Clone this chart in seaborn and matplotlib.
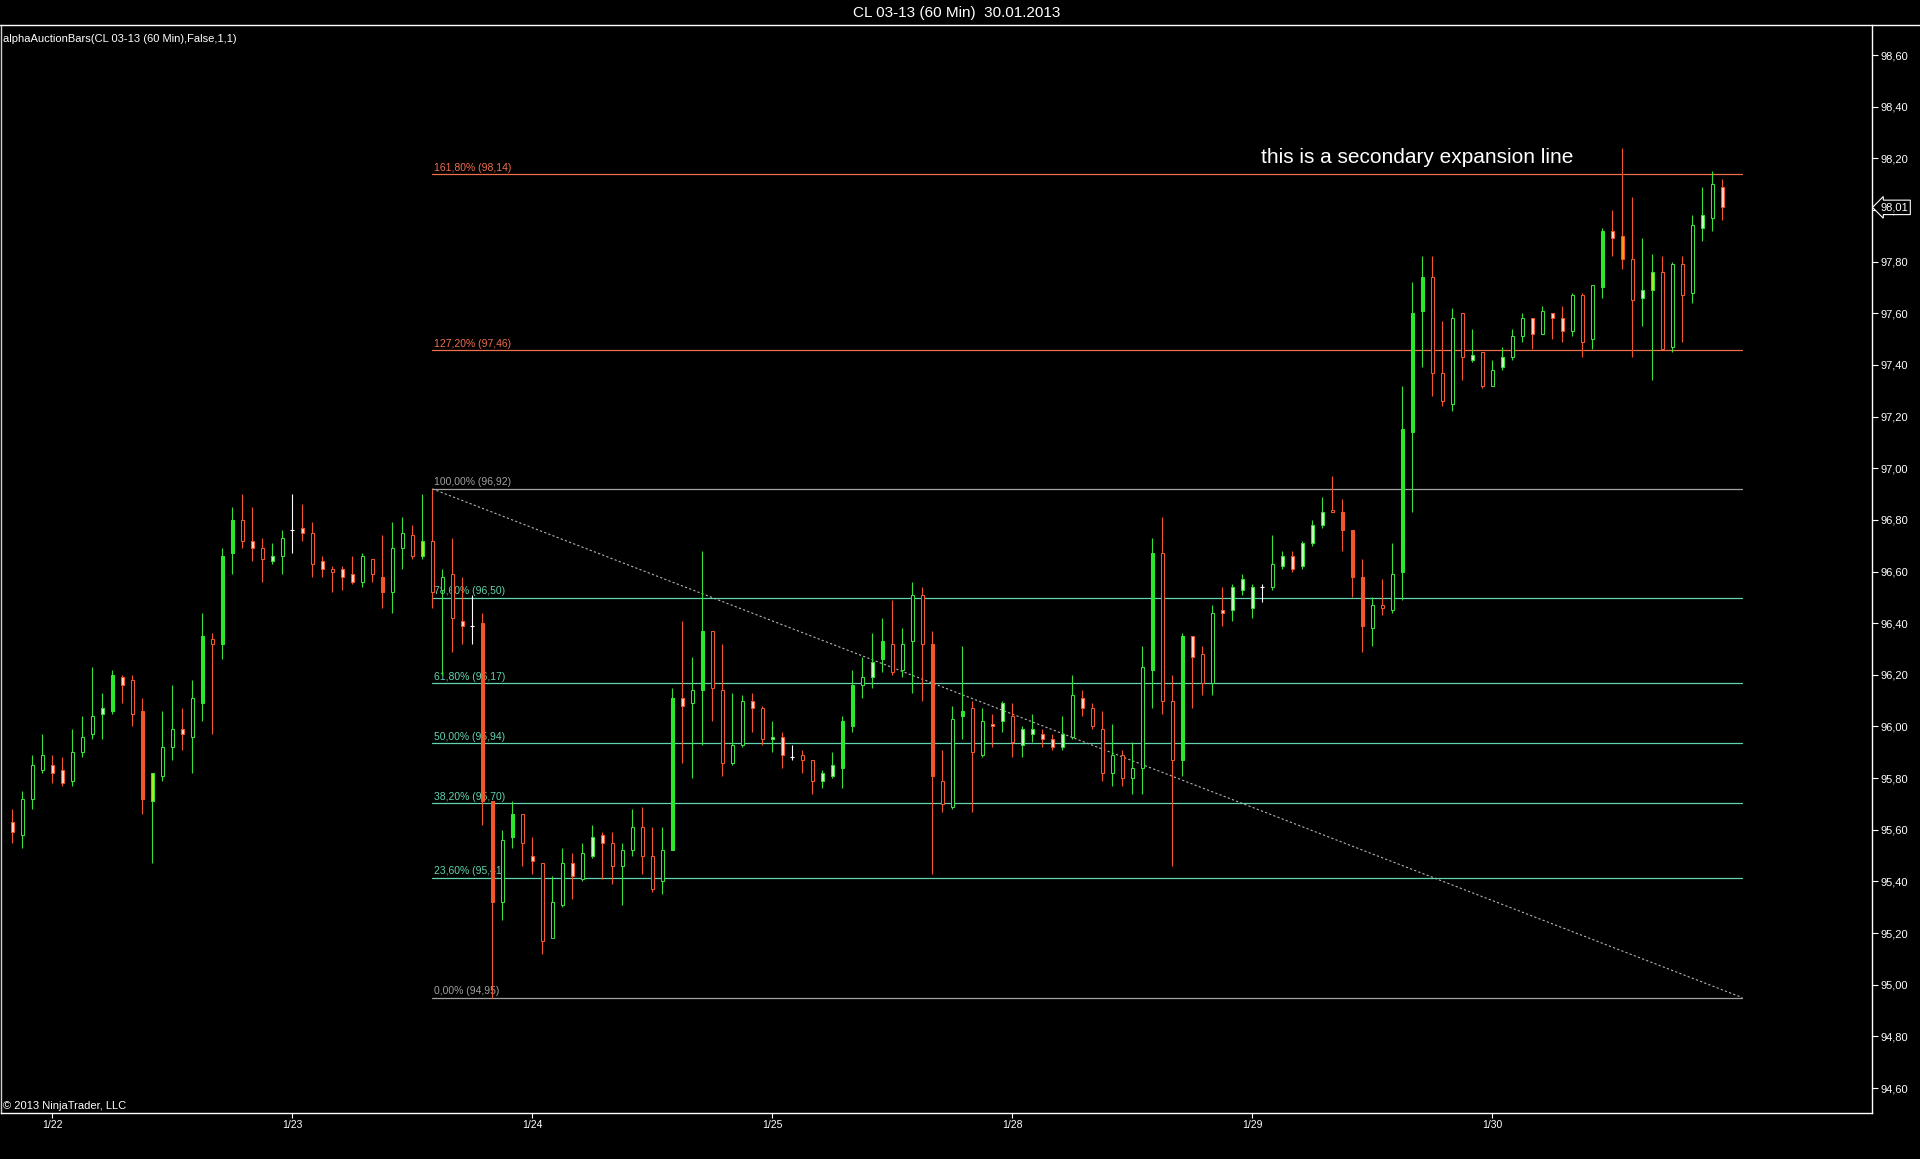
import numpy as np
import pandas as pd
import matplotlib
matplotlib.use("Agg")
import matplotlib.pyplot as plt
from matplotlib.lines import Line2D
import seaborn as sns

# ------------------------------------------------------------------ data
title_text = "CL 03-13 (60 Min)  30.01.2013"
indicator_text = "alphaAuctionBars(CL 03-13 (60 Min),False,1,1)"
copyright_text = "\u00a9 2013 NinjaTrader, LLC"
note_text = "this is a secondary expansion line"

day_labels = ["1/22", "1/23", "1/24", "1/25", "1/28", "1/29", "1/30"]
day_tick_bars = [4, 28, 52, 76, 100, 124, 148]

opens = [95.63, 95.58, 95.72, 95.83, 95.85, 95.83, 95.79, 95.90, 95.97, 96.05,
         96.06, 96.19, 96.18, 96.06, 95.71, 95.81, 95.92, 95.99, 95.96, 96.09,
         96.34, 96.32, 96.67, 96.80, 96.72, 96.69, 96.64, 96.66, 96.76, 96.77,
         96.75, 96.64, 96.61, 96.61, 96.59, 96.56, 96.65, 96.58, 96.52, 96.69,
         96.74, 96.66, 96.72, 96.53, 96.59, 96.41, 96.39, 96.40, 95.71, 95.32,
         95.57, 95.66, 95.50, 95.47, 95.18, 95.31, 95.47, 95.41, 95.50, 95.58,
         95.55, 95.46, 95.52, 95.61, 95.50, 95.40, 95.52, 96.11, 96.09, 96.14,
         96.37, 96.14, 95.86, 95.93, 96.10, 96.07, 95.95, 95.96, 95.88, 95.89,
         95.87, 95.79, 95.81, 95.84, 96.00, 96.16, 96.19, 96.26, 96.32, 96.22,
         96.33, 96.51, 96.32, 95.79, 95.69, 96.04, 96.07, 95.89, 96.01, 96.02,
         96.04, 95.93, 95.97, 95.97, 95.95, 95.92, 95.96, 96.11, 96.07, 95.99,
         95.82, 95.89, 95.80, 95.84, 96.22, 96.67, 96.10, 95.87, 96.35, 96.28,
         96.17, 96.45, 96.45, 96.53, 96.46, 96.54, 96.54, 96.62, 96.66, 96.62,
         96.71, 96.78, 96.84, 96.83, 96.76, 96.58, 96.38, 96.47, 96.45, 96.60,
         97.14, 97.61, 97.74, 97.37, 97.25, 97.60, 97.42, 97.45, 97.32, 97.39,
         97.43, 97.51, 97.58, 97.52, 97.60, 97.58, 97.53, 97.67, 97.50, 97.70,
         97.92, 97.90, 97.81, 97.66, 97.69, 97.76, 97.47, 97.79, 97.68, 97.93,
         97.97, 98.09]
highs = [95.68, 95.75, 95.89, 95.97, 95.89, 95.88, 95.99, 96.04, 96.23, 96.13,
         96.22, 96.20, 96.20, 96.11, 95.82, 96.06, 96.16, 96.07, 96.18, 96.44,
         96.36, 96.69, 96.85, 96.90, 96.85, 96.73, 96.71, 96.76, 96.90, 96.86,
         96.79, 96.66, 96.62, 96.62, 96.66, 96.67, 96.65, 96.74, 96.79, 96.81,
         96.78, 96.90, 96.92, 96.61, 96.73, 96.58, 96.51, 96.44, 95.71, 95.60,
         95.71, 95.66, 95.57, 95.47, 95.42, 95.53, 95.51, 95.55, 95.62, 95.59,
         95.59, 95.55, 95.68, 95.69, 95.61, 95.61, 96.15, 96.41, 96.27, 96.68,
         96.37, 96.32, 96.13, 96.12, 96.13, 96.08, 96.02, 95.98, 95.93, 95.91,
         95.87, 95.83, 95.90, 96.04, 96.22, 96.27, 96.36, 96.42, 96.49, 96.38,
         96.56, 96.54, 96.37, 95.91, 96.08, 96.31, 96.10, 96.07, 96.05, 96.10,
         96.09, 96.00, 96.05, 95.99, 95.97, 96.04, 96.20, 96.14, 96.09, 96.06,
         96.01, 95.91, 95.94, 96.31, 96.73, 96.81, 96.20, 96.36, 96.35, 96.31,
         96.47, 96.54, 96.55, 96.59, 96.55, 96.55, 96.74, 96.68, 96.68, 96.72,
         96.80, 96.89, 96.97, 96.88, 96.76, 96.65, 96.50, 96.57, 96.71, 97.32,
         97.72, 97.82, 97.82, 97.57, 97.62, 97.60, 97.54, 97.45, 97.42, 97.47,
         97.54, 97.60, 97.58, 97.63, 97.60, 97.63, 97.68, 97.68, 97.71, 97.93,
         98.00, 98.24, 98.05, 97.89, 97.83, 97.82, 97.80, 97.82, 97.98, 98.09,
         98.15, 98.12]
lows = [95.55, 95.53, 95.68, 95.82, 95.78, 95.77, 95.77, 95.88, 95.95, 95.95,
        96.05, 96.09, 96.00, 95.66, 95.47, 95.79, 95.87, 95.91, 95.82, 96.02,
        95.97, 96.26, 96.59, 96.69, 96.64, 96.56, 96.63, 96.59, 96.67, 96.72,
        96.58, 96.58, 96.52, 96.53, 96.55, 96.54, 96.56, 96.46, 96.44, 96.61,
        96.65, 96.65, 96.46, 96.20, 96.29, 96.32, 96.32, 95.62, 94.95, 95.25,
        95.53, 95.46, 95.43, 95.12, 95.18, 95.30, 95.33, 95.40, 95.49, 95.41,
        95.39, 95.31, 95.50, 95.43, 95.36, 95.35, 95.52, 95.86, 95.80, 95.93,
        96.02, 95.81, 95.85, 95.92, 95.98, 95.93, 95.90, 95.84, 95.87, 95.82,
        95.74, 95.76, 95.80, 95.76, 95.98, 96.11, 96.15, 96.21, 96.20, 96.19,
        96.13, 96.10, 95.43, 95.67, 95.68, 95.95, 95.67, 95.88, 95.92, 95.98,
        95.88, 95.88, 95.94, 95.92, 95.91, 95.91, 95.95, 96.04, 95.99, 95.79,
        95.77, 95.77, 95.74, 95.74, 96.07, 96.05, 95.46, 95.81, 96.07, 96.12,
        96.12, 96.39, 96.41, 96.51, 96.42, 96.48, 96.53, 96.61, 96.60, 96.61,
        96.70, 96.77, 96.83, 96.68, 96.50, 96.29, 96.31, 96.43, 96.44, 96.49,
        96.83, 97.39, 97.28, 97.24, 97.22, 97.34, 97.41, 97.31, 97.32, 97.38,
        97.42, 97.49, 97.46, 97.52, 97.50, 97.49, 97.51, 97.43, 97.46, 97.66,
        97.82, 97.77, 97.43, 97.55, 97.34, 97.46, 97.45, 97.49, 97.64, 97.88,
        97.92, 97.96]
closes = [95.59, 95.72, 95.85, 95.89, 95.82, 95.78, 95.90, 95.96, 96.04, 96.07,
          96.20, 96.16, 96.05, 95.72, 95.82, 95.92, 95.99, 95.97, 96.11, 96.35,
          96.32, 96.66, 96.80, 96.72, 96.69, 96.65, 96.66, 96.73, 96.76, 96.75,
          96.63, 96.61, 96.60, 96.58, 96.56, 96.66, 96.59, 96.52, 96.69, 96.75,
          96.66, 96.72, 96.52, 96.58, 96.42, 96.39, 96.39, 95.71, 95.32, 95.56,
          95.66, 95.55, 95.48, 95.17, 95.32, 95.47, 95.42, 95.51, 95.57, 95.55,
          95.46, 95.52, 95.61, 95.50, 95.37, 95.52, 96.11, 96.08, 96.14, 96.37,
          96.15, 95.86, 95.93, 96.10, 96.07, 95.95, 95.96, 95.89, 95.88, 95.87,
          95.79, 95.82, 95.85, 96.02, 96.16, 96.19, 96.25, 96.33, 96.21, 96.32,
          96.51, 96.32, 95.81, 95.70, 96.03, 96.06, 95.90, 96.02, 96.00, 96.09,
          95.94, 95.99, 95.99, 95.95, 95.92, 95.97, 96.12, 96.07, 96.00, 95.82,
          95.89, 95.80, 95.84, 96.23, 96.67, 96.10, 95.87, 96.35, 96.27, 96.17,
          96.44, 96.44, 96.54, 96.57, 96.54, 96.54, 96.63, 96.66, 96.61, 96.71,
          96.78, 96.83, 96.83, 96.76, 96.58, 96.39, 96.47, 96.46, 96.59, 97.15,
          97.60, 97.74, 97.37, 97.26, 97.58, 97.43, 97.44, 97.32, 97.38, 97.43,
          97.51, 97.58, 97.52, 97.61, 97.58, 97.53, 97.67, 97.49, 97.71, 97.92,
          97.89, 97.81, 97.65, 97.69, 97.76, 97.46, 97.79, 97.67, 97.94, 97.98,
          98.10, 98.01]

# indicator states of the alphaAuctionBars colouring
strong_bars = [10, 13, 19, 21, 22, 37, 47, 48, 50, 66, 69, 83, 84, 87, 92, 95,
               114, 117, 133, 134, 135, 139, 140, 141, 159]
yellow_bars = [14, 41, 164]
orange_bars = [161]
pale_bars = [0, 4, 5, 9, 11, 17, 24, 26, 29, 31, 33, 34, 45, 52, 56, 58, 59,
             67, 74, 76, 77, 81, 82, 86, 98, 99, 101, 102, 103, 104, 105, 107,
             118, 121, 122, 123, 124, 127, 128, 129, 130, 131, 146, 149, 152,
             154, 155, 160, 163, 169, 171]

fib_low = 94.95
fib_high = 96.92
fib_start_bar = 42
fib_end_bar = 173
fib_ratios = [0.0, 23.6, 38.2, 50.0, 61.8, 78.6, 100.0, 127.2, 161.8]

price_ticks = [94.6, 94.8, 95.0, 95.2, 95.4, 95.6, 95.8, 96.0, 96.2, 96.4,
               96.6, 96.8, 97.0, 97.2, 97.4, 97.6, 97.8, 98.0, 98.2, 98.4, 98.6]

# ------------------------------------------------------------------ style
sns.set_theme(style="dark", rc={
    "figure.facecolor": "black", "axes.facecolor": "black",
    "axes.edgecolor": "white", "text.color": "white",
    "xtick.color": "white", "ytick.color": "white",
    "axes.grid": False,
})
plt.rcParams["font.family"] = ["Liberation Sans", "DejaVu Sans"]

W, H = 1920, 1159
fig = plt.figure(figsize=(W / 100, H / 100), dpi=100, facecolor="black")
ax_left, ax_right, ax_top, ax_bot = 1, 1872, 25, 1113
ax = fig.add_axes([ax_left / W, 1 - ax_bot / H, (ax_right - ax_left) / W,
                   (ax_bot - ax_top) / H])
ax.set_facecolor("black")

UP = "#3ae03a"
UP_FILL = "#22ee22"
DN = "#f2562a"
YEL = "#a8ec2a"
ORA = "#ff9c1e"
PALE_UP = "#c8f5c0"
PALE_DN = "#ffd2c4"

df = pd.DataFrame({"open": opens, "high": highs, "low": lows, "close": closes})
df["bar"] = np.arange(len(df))

edge_cols, face_cols = [], []
for i, r in df.iterrows():
    if r["open"] == r["close"]:
        edge_cols.append("white"); face_cols.append("white")
    elif r["close"] > r["open"]:
        edge_cols.append(UP)
        if i in yellow_bars:
            face_cols.append(YEL)
        elif i in strong_bars:
            face_cols.append(UP_FILL)
        elif i in pale_bars:
            face_cols.append(PALE_UP)
        else:
            face_cols.append("black")
    else:
        edge_cols.append(DN)
        if i in orange_bars:
            face_cols.append(ORA)
        elif i in strong_bars:
            face_cols.append(DN)
        elif i in pale_bars:
            face_cols.append(PALE_DN)
        else:
            face_cols.append("black")

# wicks
ax.vlines(df["bar"], df["low"], df["high"], colors=edge_cols, linewidth=0.8, zorder=4)
# bodies
body_bottom = np.minimum(df["open"], df["close"])
body_h = (df["close"] - df["open"]).abs()
is_doji = body_h == 0
ax.bar(df["bar"][~is_doji], body_h[~is_doji], bottom=body_bottom[~is_doji],
       width=0.32, color=np.array(face_cols, dtype=object)[~is_doji.values],
       edgecolor=np.array(edge_cols, dtype=object)[~is_doji.values],
       linewidth=0.75, zorder=5)
# doji crosses
dj = df[is_doji]
ax.hlines(dj["close"], dj["bar"] - 0.2, dj["bar"] + 0.2, colors="white",
          linewidth=0.8, zorder=5)

# fibonacci levels
fib_color = {}
for r in fib_ratios:
    if r in (0.0, 100.0):
        fib_color[r] = "#a0a0a0"
    elif r > 100:
        fib_color[r] = "#ee6e4e"
    else:
        fib_color[r] = "#62d2b0"
rows = []
for r in fib_ratios:
    lvl = fib_low + r / 100.0 * (fib_high - fib_low)
    rows.append({"bar": fib_start_bar, "price": lvl, "ratio": r})
    rows.append({"bar": fib_end_bar, "price": lvl, "ratio": r})
fib_df = pd.DataFrame(rows)
sns.lineplot(data=fib_df, x="bar", y="price", hue="ratio", palette=fib_color,
             estimator=None, legend=False, linewidth=0.9, ax=ax, zorder=2)
for r in fib_ratios:
    lvl = fib_low + r / 100.0 * (fib_high - fib_low)
    lab = (f"{r:.2f}%".replace(".", ",") + " (" + f"{lvl:.2f}".replace(".", ",") + ")")
    ax.annotate(lab, xy=(fib_start_bar, lvl), xytext=(1.5, 1.2),
                textcoords="offset points", ha="left", va="bottom",
                fontsize=7.5, color=fib_color[r], zorder=3)

# diagonal connecting the fib anchors
ax.plot([fib_start_bar, fib_end_bar], [fib_high, fib_low], color="#b4b4b4",
        linestyle=(0, (2, 2)), linewidth=0.8, zorder=2)

# axes ranges (bar spacing 10 px, first bar at x = 12.3 px; 258.25 px per price unit)
ax.set_xlim((ax_left - 12.3) / 10, (ax_right - 12.3) / 10)
ax.set_ylim(98.60 - (ax_bot - 55) / 258.25, 98.60 + (55 - ax_top) / 258.25)

ax.set_xticks(day_tick_bars)
ax.set_xticklabels(day_labels)
ax.yaxis.tick_right()
ax.set_yticks(price_ticks)
ax.set_yticklabels([f"{p:.2f}".replace(".", ",") for p in price_ticks])
ax.tick_params(axis="x", bottom=True, direction="out", length=3.6, width=0.8,
               colors="white", labelsize=7.5, pad=1.5)
ax.tick_params(axis="y", right=True, left=False, direction="out", length=4.3,
               width=0.8, colors="white", labelsize=8, pad=2)
ax.set_xlabel(""); ax.set_ylabel("")
for s in ("left", "bottom", "right"):
    ax.spines[s].set_color("white")
    ax.spines[s].set_linewidth(1.0)
ax.spines["left"].set_color("#cfcfcf")
ax.spines["top"].set_visible(False)

# top frame line spanning the window
fig.add_artist(Line2D([0, 1], [1 - ax_top / H, 1 - ax_top / H], color="white",
                      linewidth=1.0, transform=fig.transFigure))

# last price marker
last_price = closes[-1]
ax.annotate(f"{last_price:.2f}".replace(".", ","), xy=(1.0, last_price),
            xycoords=("axes fraction", "data"), xytext=(6, 0),
            textcoords="offset points", ha="left", va="center", fontsize=8,
            color="white", zorder=10, annotation_clip=False,
            bbox=dict(boxstyle="larrow,pad=0.2", fc="black", ec="white", lw=0.8))

# texts
fig.text(957 / W, 1 - 13 / H, title_text, ha="center", va="center",
         fontsize=11, color="white")
fig.text(3 / W, 1 - 39 / H, indicator_text, ha="left", va="center",
         fontsize=8, color="white")
fig.text(3 / W, 1 - 1106 / H, copyright_text, ha="left", va="center",
         fontsize=8, color="white")
ax.text((1261 - 12.3) / 10, 98.60 - (163 - 55) / 258.25, note_text,
        ha="left", va="baseline", fontsize=15, color="white", zorder=6)

fig.savefig("out.png", dpi=100, facecolor="black")
